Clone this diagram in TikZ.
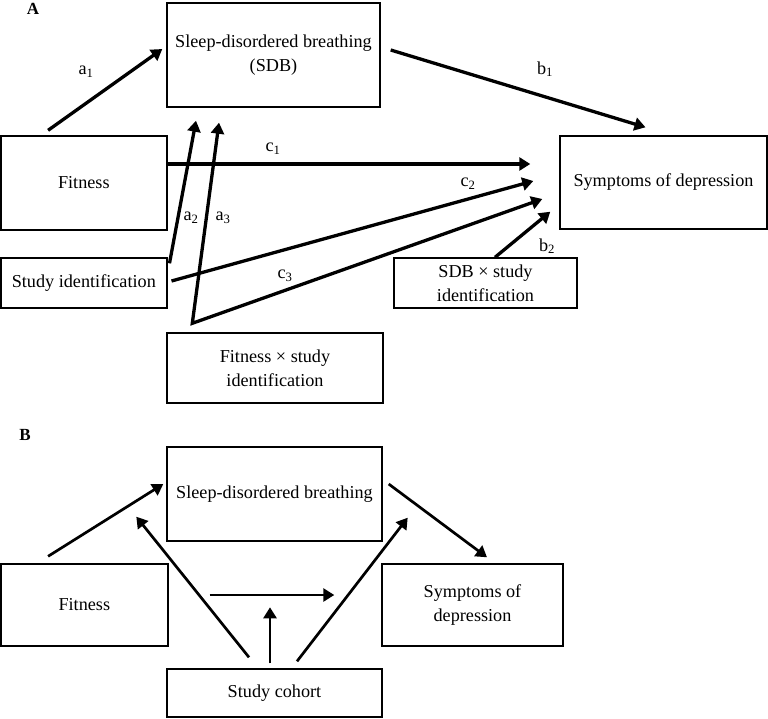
\documentclass[tikz,border=0pt]{standalone}
\usepackage{fontspec}
\setmainfont{Liberation Serif}
\usetikzlibrary{arrows.meta,calc}
\begin{document}
\begin{tikzpicture}[x=1pt,y=-1pt,
  box/.style={draw, line width=1.4pt, rectangle, align=center, inner sep=0pt, font=\fontsize{18.2}{24}\selectfont},
  tip/.tip={Triangle[length=11pt,width=13pt]},
  arr/.style={line width=3.3pt, -tip},
  arrB/.style={line width=2.7pt, -tip},
  lab/.style={font=\fontsize{18.2}{22}\selectfont, inner sep=0pt},
  panel/.style={font=\fontsize{17}{20}\selectfont\bfseries, inner sep=0pt}]
\useasboundingbox (0,0) rectangle (768,718);

% ---------- Panel A ----------
\node[panel] (pA) at (33,9) {A};
\node[box, minimum width=213pt, minimum height=104pt] (sdbA) at (273.5,55) {Sleep-disordered breathing\\(SDB)};
\node[box, minimum width=166pt, minimum height=94pt] (fitA) at (83.8,183) {Fitness};
\node[box, minimum width=166pt, minimum height=50pt] (studyA) at (83.8,283) {Study identification};
\node[box, minimum width=216pt, minimum height=70pt] (fxsA) at (275,368) {Fitness × study\\identification};
\node[box, minimum width=207pt, minimum height=93pt] (depA) at (663.5,182.5) {Symptoms of depression};
\node[box, minimum width=183pt, minimum height=50pt] (sxsA) at (485.5,283) {SDB × study\\identification};

\draw[arr] ([shift={(48,-5)}]fitA.north west) -- ([shift={(-4,-6)}]sdbA.west);
\draw[arr] ([shift={(10,-5)}]sdbA.east) -- ([shift={(-18,-8)}]depA.north);
\draw[arr] ([shift={(0,-19)}]fitA.east) -- ([shift={(-29,-18.5)}]depA.west);
\draw[arr] ([shift={(4,-2)}]studyA.east) -- ([shift={(-26,-1.5)}]depA.west);
\draw[line width=3.3pt, tip-tip, line join=miter] ([shift={(-54.5,15)}]sdbA.south) -- ([shift={(26,-9)}]fxsA.north west) -- ([shift={(-17,16.5)}]depA.west);
\draw[arr] ([shift={(2,6)}]studyA.north east) -- ([shift={(-77.5,13)}]sdbA.south);
\draw[arr] ([shift={(9.5,0)}]sxsA.north) -- ([shift={(-9,-18)}]depA.south west);

\node[lab] (la1) at (86,72) {a\textsubscript{1}};
\node[lab] (lb1) at (545,69) {b\textsubscript{1}};
\node[lab] (lc1) at (273,149) {c\textsubscript{1}};
\node[lab] (lc2) at (468,184) {c\textsubscript{2}};
\node[lab] (lc3) at (285,276) {c\textsubscript{3}};
\node[lab] (la2) at (191,218) {a\textsubscript{2}};
\node[lab] (la3) at (223,218) {a\textsubscript{3}};
\node[lab] (lb2) at (547,246) {b\textsubscript{2}};

% ---------- Panel B ----------
\node[panel] (pB) at (25,435) {B};
\node[box, minimum width=215pt, minimum height=94pt] (sdbB) at (274.5,494) {Sleep-disordered breathing};
\node[box, minimum width=167pt, minimum height=82pt] (fitB) at (84.3,605) {Fitness};
\node[box, minimum width=181pt, minimum height=82pt] (depB) at (472.5,605) {Symptoms of\\depression};
\node[box, minimum width=215pt, minimum height=48pt] (cohB) at (274.5,693) {Study cohort};

\draw[arrB] ([shift={(48,-7)}]fitB.north west) -- ([shift={(-3,-10)}]sdbB.west);
\draw[arrB] ([shift={(6,-10)}]sdbB.east) -- ([shift={(14.5,-6)}]depB.north);
\draw[arrB] ([shift={(-25.5,-11)}]cohB.north) -- ([shift={(-30,-25)}]sdbB.south west);
\draw[arrB] ([shift={(22.5,-7)}]cohB.north) -- ([shift={(25,-24)}]sdbB.south east);
\draw[arrB] ([shift={(41,-10)}]fitB.east) -- ([shift={(-47,-10)}]depB.west);
\draw[arrB] ([shift={(-4.5,-5)}]cohB.north) -- ([shift={(-4.5,-61)}]cohB.north);
\end{tikzpicture}
\end{document}
